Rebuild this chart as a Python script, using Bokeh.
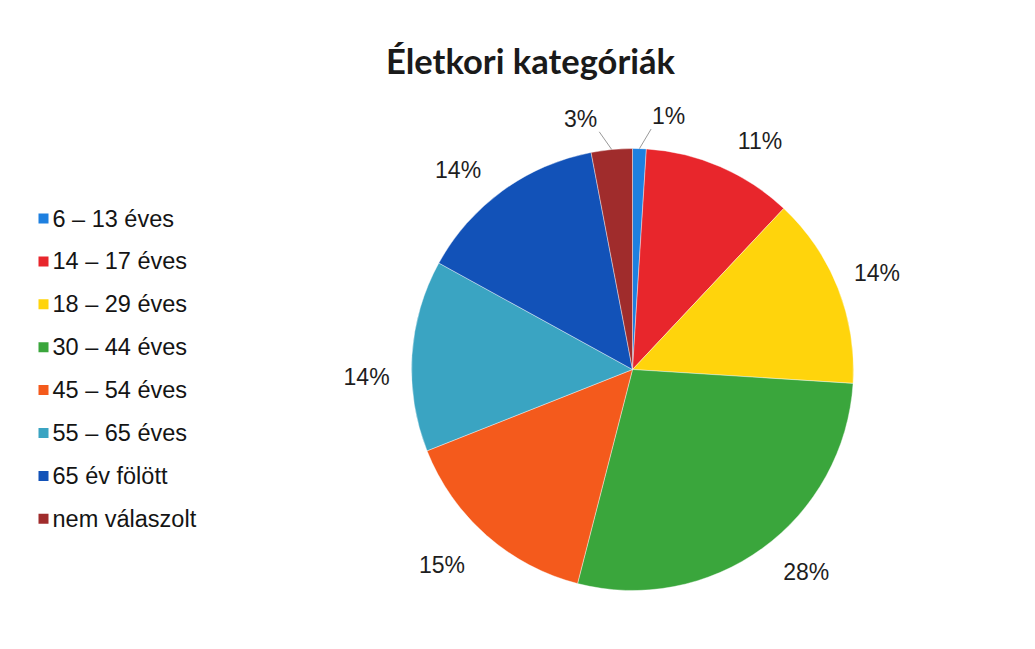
import numpy as np
from bokeh.plotting import figure
from bokeh.models import Range1d, ColumnDataSource
from bokeh.core.properties import value
from bokeh.embed import file_html
from bokeh.resources import INLINE

title = "Életkori kategóriák"
categories = ["6 – 13 éves", "14 – 17 éves", "18 – 29 éves", "30 – 44 éves",
              "45 – 54 éves", "55 – 65 éves", "65 év fölött", "nem válaszolt"]
percent = [1, 11, 14, 28, 15, 14, 14, 3]
colors = ["#1e80e0", "#e8262c", "#ffd40c", "#3aa63c", "#f45a1c", "#3aa4c2", "#1252b8", "#a02c2c"]

W, H = 1019, 633
p = figure(width=W, height=H, output_backend="svg", toolbar_location=None,
           x_range=Range1d(0, W), y_range=Range1d(649 - H, 649),
           min_border=0)
p.axis.visible = False
p.grid.visible = False
p.outline_line_color = None
p.background_fill_color = "white"
p.border_fill_color = "white"

def Y(py):
    return 649 - py

cx, cy, r = 632, Y(369), 221
vals = np.array(percent, dtype=float)
frac = vals / vals.sum()
cum = np.concatenate([[0], np.cumsum(frac)])
start = np.pi / 2 - 2 * np.pi * cum[:-1]
end = np.pi / 2 - 2 * np.pi * cum[1:]
src = ColumnDataSource(dict(start=start, end=end, color=colors))
p.wedge(x=cx, y=cy, radius=r, radius_units="screen", start_angle="start", end_angle="end",
        direction="clock", fill_color="color", line_color="white", line_width=0.4, source=src)

# data labels
mid = np.pi / 2 - 2 * np.pi * (cum[:-1] + cum[1:]) / 2
lr = np.array([256, 262, 263, 267, 273, 266, 265, 256])
nudge = np.array([0.11, 0.1, 0.0, -0.08, 0.05, -0.09, -0.09, -0.11])
ang = mid - nudge
lx = cx + lr * np.cos(ang)
ly = cy + lr * np.sin(ang)
p.text(x=lx, y=ly, text=[f"{v}%" for v in percent], text_font=value("Liberation Sans"),
       text_font_size="23px", text_color="#1e1e1e", text_align="center", text_baseline="middle")

# leader lines for small slices
for i in (0, 7):
    ex, ey = cx + r * np.cos(mid[i]), cy + r * np.sin(mid[i])
    ty = ly[i] - 13
    tx = lx[i] + (ex - lx[i]) * 0.6
    p.line(x=[tx, ex], y=[ty, ey], line_color="#999999", line_width=1)

# legend
n = len(categories)
ly0 = np.array([Y(218 + i * 42.9) for i in range(n)])
p.rect(x=[43] * n, y=ly0, width=10, height=10, width_units="screen", height_units="screen",
       fill_color=colors, line_color=None)
p.text(x=[52] * n, y=ly0, text=categories, text_font=value("Liberation Sans"),
       text_font_size="23.5px", text_color="#141414", text_align="left", text_baseline="middle")

# title
p.text(x=[530], y=[Y(60)], text=[title], text_font=value("Lato"), text_font_style="bold",
       text_font_size="34.5px", text_color="#1a1a1a", text_align="center", text_baseline="middle")

open("out.html", "w").write(file_html(p, INLINE))
